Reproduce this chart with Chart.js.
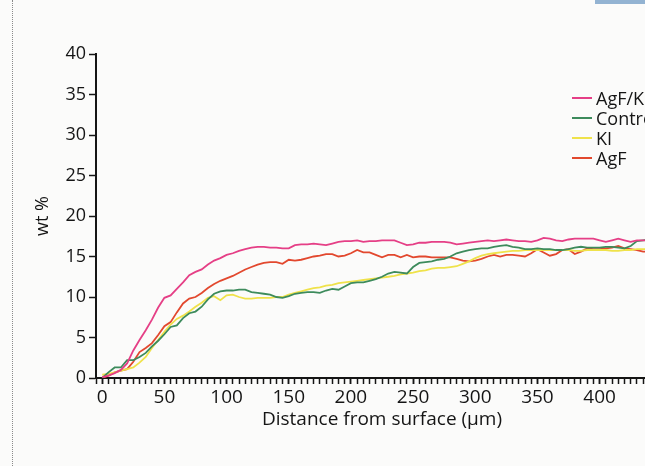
<!DOCTYPE html>
<html>
<head>
<meta charset="utf-8">
<script src="https://cdn.jsdelivr.net/npm/chart.js@4.4.1/dist/chart.umd.min.js"></script>
<style>
  html, body { margin: 0; padding: 0; background: #fbfbfa; }
  #wrap { position: relative; width: 645px; height: 466px; overflow: hidden; background: #fbfbfa; }
  #fold { position: absolute; left: 12px; top: 0; height: 466px; border-left: 1px dotted #8a8a8a; }
  #tab { position: absolute; left: 595px; top: 0; width: 50px; height: 4px; background: #93b3d2; }
  #legend { position: absolute; left: 572px; top: 88px; font-family: "Open Sans", sans-serif; font-size: 18px; color: #151515; white-space: nowrap; }
  #legend .row { height: 20px; line-height: 20px; display: flex; align-items: center; }
  #legend .swatch { display: inline-block; width: 20px; height: 1.6px; margin-right: 4px; }
</style>
</head>
<body>
<div id="wrap">
  <div id="fold"></div>
  <div id="tab"></div>
  <canvas id="profileChart" width="720" height="466"></canvas>
  <div id="legend"></div>
</div>
<script>
// distance from surface, µm
const distance = [
  0, 5, 10, 15, 20, 25, 30, 35, 40, 45, 50, 55, 60, 65, 70, 75, 80, 85, 90, 95,
  100, 105, 110, 115, 120, 125, 130, 135, 140, 145, 150, 155, 160, 165, 170, 175, 180, 185, 190, 195,
  200, 205, 210, 215, 220, 225, 230, 235, 240, 245, 250, 255, 260, 265, 270, 275, 280, 285, 290, 295,
  300, 305, 310, 315, 320, 325, 330, 335, 340, 345, 350, 355, 360, 365, 370, 375, 380, 385, 390, 395,
  400, 405, 410, 415, 420, 425, 430, 435, 440
];

// wt %
const agfKi = [
  0.1, 0.3, 0.6, 1.0, 1.8, 3.4, 4.7, 5.9, 7.2, 8.7, 9.9, 10.2, 11.0, 11.8, 12.7, 13.1, 13.4, 14.0, 14.5, 14.8,
  15.2, 15.4, 15.7, 15.9, 16.1, 16.2, 16.2, 16.1, 16.1, 16.0, 16.0, 16.4, 16.5, 16.5, 16.6, 16.5, 16.4, 16.6, 16.8, 16.9,
  16.9, 17.0, 16.8, 16.9, 16.9, 17.0, 17.0, 17.0, 16.7, 16.4, 16.5, 16.7, 16.7, 16.8, 16.8, 16.8, 16.7, 16.5, 16.6, 16.7,
  16.8, 16.9, 17.0, 16.9, 17.0, 17.1, 17.0, 16.9, 16.9, 16.8, 17.0, 17.3, 17.2, 17.0, 16.9, 17.1, 17.2, 17.2, 17.2, 17.2,
  17.0, 16.8, 17.0, 17.2, 17.0, 16.8, 17.0, 17.0, 17.0
];

const control = [
  0.0, 0.7, 1.3, 1.3, 2.2, 2.2, 2.6, 3.1, 3.9, 4.6, 5.4, 6.3, 6.5, 7.4, 8.0, 8.2, 8.8, 9.7, 10.4, 10.7,
  10.8, 10.8, 10.9, 10.9, 10.6, 10.5, 10.4, 10.3, 10.0, 9.9, 10.1, 10.4, 10.5, 10.6, 10.6, 10.5, 10.8, 11.0, 10.9, 11.3,
  11.7, 11.8, 11.8, 12.0, 12.2, 12.5, 12.9, 13.1, 13.0, 12.9, 13.7, 14.2, 14.3, 14.4, 14.6, 14.7, 15.0, 15.4, 15.6, 15.8,
  15.9, 16.0, 16.0, 16.2, 16.3, 16.4, 16.2, 16.1, 15.9, 15.9, 16.0, 15.9, 15.9, 15.8, 15.8, 15.9, 16.1, 16.2, 16.1, 16.1,
  16.1, 16.2, 16.2, 16.1, 16.0, 16.3, 16.9, 17.0, 17.1
];

const ki = [
  0.4, 0.5, 0.7, 0.9, 1.1, 1.3, 1.9, 2.6, 3.7, 4.7, 5.7, 6.6, 7.3, 7.7, 8.2, 8.8, 9.3, 9.9, 10.1, 9.6,
  10.2, 10.3, 10.0, 9.8, 9.8, 9.9, 9.9, 9.9, 10.0, 10.0, 10.3, 10.5, 10.7, 10.9, 11.1, 11.2, 11.4, 11.5, 11.7, 11.8,
  11.9, 12.0, 12.1, 12.2, 12.3, 12.4, 12.5, 12.6, 12.8, 12.9, 13.0, 13.2, 13.3, 13.5, 13.6, 13.6, 13.7, 13.8, 14.1, 14.4,
  14.8, 15.1, 15.3, 15.4, 15.5, 15.6, 15.7, 15.7, 15.8, 15.8, 15.8, 15.8, 15.8, 15.8, 15.8, 15.8, 15.7, 15.7, 15.8, 15.8,
  15.8, 15.8, 15.7, 15.7, 15.8, 15.8, 15.9, 15.9, 15.9
];

const agf = [
  0.0, 0.3, 0.7, 0.9, 1.1, 2.0, 3.2, 3.7, 4.3, 5.3, 6.4, 6.9, 8.1, 9.2, 9.8, 10.0, 10.5, 11.1, 11.6, 12.0,
  12.3, 12.6, 13.0, 13.4, 13.7, 14.0, 14.2, 14.3, 14.3, 14.1, 14.6, 14.5, 14.6, 14.8, 15.0, 15.1, 15.3, 15.3, 15.0, 15.1,
  15.4, 15.8, 15.5, 15.5, 15.2, 14.9, 15.2, 15.2, 14.9, 15.2, 14.9, 15.0, 15.0, 14.9, 14.9, 14.9, 14.9, 14.7, 14.5, 14.4,
  14.5, 14.7, 15.0, 15.2, 15.0, 15.2, 15.2, 15.1, 15.0, 15.4, 15.9, 15.5, 15.1, 15.3, 15.8, 15.9, 15.3, 15.6, 16.0, 15.9,
  15.9, 16.0, 16.1, 16.3, 16.0, 15.9, 15.8, 15.6, 15.6
];

const seriesNames = ["AgF/KI", "Control", "KI", "AgF"];
const seriesColors = ["#e53f86", "#3d8b5c", "#efe24a", "#e2482e"];
const seriesValues = [agfKi, control, ki, agf];

const toPoints = vals => vals.map((v, i) => ({ x: distance[i], y: v }));

const ink = "#151515";
const xMin = -5, xMax = 455;

const ctx = document.getElementById("profileChart");

const chart = new Chart(ctx, {
    type: "line",
    data: {
        datasets: seriesNames.map((name, i) => ({
            label: name,
            data: toPoints(seriesValues[i]),
            borderColor: seriesColors[i],
            borderWidth: 1.8,
            pointRadius: 0,
            tension: 0
        }))
    },
    options: {
        responsive: false,
        animation: false,
        layout: { padding: { top: 54, right: 52, bottom: 0, left: 0 } },
        plugins: {
            legend: { display: false },
            tooltip: { enabled: false }
        },
        scales: {
            // comb of small ticks every 5 µm, no labels
            xMinor: {
                type: "linear",
                position: "bottom",
                weight: 0,
                min: xMin,
                max: xMax,
                afterFit: s => { s.height = 0; },
                border: { display: false },
                grid: { drawOnChartArea: false, tickLength: 6, tickColor: ink, tickWidth: 1.5 },
                ticks: { display: false, stepSize: 5 }
            },
            x: {
                type: "linear",
                position: "bottom",
                weight: 1,
                min: xMin,
                max: xMax,
                afterFit: s => { s.height = 88; },
                border: { color: ink, width: 2 },
                grid: { drawOnChartArea: false, tickLength: 6, tickColor: ink, tickWidth: 1.5 },
                ticks: {
                    stepSize: 50,
                    includeBounds: false,
                    autoSkip: false,
                    maxRotation: 0,
                    padding: 2,
                    color: ink,
                    font: { family: "Open Sans", size: 19 },
                    callback: v => (v >= 0 && v % 50 === 0) ? v : ""
                },
                title: {
                    display: true,
                    text: "Distance from surface (µm)",
                    color: ink,
                    font: { family: "Open Sans", size: 19 },
                    padding: { top: 0, bottom: 35 }
                }
            },
            y: {
                min: 0,
                max: 40,
                afterFit: s => { s.width = 96; },
                border: { color: ink, width: 2 },
                grid: { drawOnChartArea: false, tickLength: 7, tickColor: ink, tickWidth: 1.5 },
                ticks: {
                    stepSize: 5,
                    padding: 3,
                    color: ink,
                    font: { family: "Open Sans", size: 18 }
                },
                title: {
                    display: true,
                    text: "wt %",
                    color: ink,
                    font: { family: "Open Sans", size: 18 },
                    padding: { top: 32, bottom: 0 }
                }
            }
        }
    }
});

// legend sits inside the plot, top right
const legendBox = document.getElementById("legend");
chart.data.datasets.forEach(ds => {
    const row = document.createElement("div");
    row.className = "row";
    row.innerHTML = '<span class="swatch" style="background:' + ds.borderColor + '"></span>' + ds.label;
    legendBox.appendChild(row);
});
</script>
</body>
</html>
